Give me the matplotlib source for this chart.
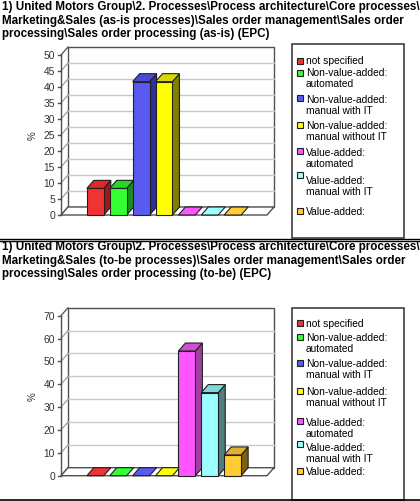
import matplotlib
matplotlib.use("Agg")
import matplotlib.pyplot as plt
from matplotlib.patches import Polygon, Rectangle
from matplotlib.lines import Line2D

# ---------------- data ----------------
categories = ["not specified", "Non-value-added:\nautomated", "Non-value-added:\nmanual with IT",
              "Non-value-added:\nmanual without IT", "Value-added:\nautomated",
              "Value-added:\nmanual with IT", "Value-added:"]
asis_values = [8.33, 8.33, 41.67, 41.67, 0, 0, 0]
tobe_values = [0, 0, 0, 0, 54.55, 36.36, 9.09]
asis_title = ("1) United Motors Group\\2. Processes\\Process architecture\\Core processes\\\n"
              "Marketing&Sales (as-is processes)\\Sales order management\\Sales order\n"
              "processing\\Sales order processing (as-is) (EPC)")
tobe_title = ("1) United Motors Group\\2. Processes\\Process architecture\\Core processes\\\n"
              "Marketing&Sales (to-be processes)\\Sales order management\\Sales order\n"
              "processing\\Sales order processing (to-be) (EPC)")
asis_ticks = list(range(0, 51, 5))
tobe_ticks = list(range(0, 71, 10))
y_label = "%"

front_colors = ["#F03232", "#33FF33", "#5A5AF0", "#FFFF00", "#FF55FF", "#99FFFF", "#FFCC33"]
side_colors = ["#A01818", "#1A901A", "#30309A", "#808000", "#A040A0", "#4C8080", "#806010"]
top_colors = ["#E02828", "#28D828", "#4A4AD8", "#D8D800", "#D050D0", "#80D8D8", "#E0B030"]

W, H = 420, 502
fig = plt.figure(figsize=(W / 100, H / 100), dpi=100)
FONT = "Liberation Sans"


def fx(x):
    return x / W


def fy(y):
    return 1 - y / H


def panel(title, title_y, values, ticks, front_top, front_bot, leg_box, leg_items):
    # title
    fig.text(fx(2), fy(title_y), title, ha="left", va="top", fontsize=8.4,
             fontweight="bold", family=FONT, linespacing=1.18)
    left, right = 61, 267
    ax = fig.add_axes([fx(left), fy(front_bot), (right - left) / W, (front_bot - front_top) / H])
    ax.set_axis_off()
    xmin, xmax = -1.5, len(values) + 0.5
    ymax = ticks[-1]
    ax.set_xlim(xmin, xmax)
    ax.set_ylim(0, ymax)
    px = (xmax - xmin) / (right - left)
    dx = 7 * px
    dy = 8 / ((front_bot - front_top) / ymax)
    edge = "#505050"
    # back wall
    ax.add_patch(Rectangle((xmin + dx, dy), xmax - xmin, ymax, facecolor="white",
                           edgecolor=edge, lw=1.0, zorder=1, clip_on=False))
    for t in ticks[1:-1]:
        ax.add_line(Line2D([xmin + dx, xmax + dx], [t + dy, t + dy], color="#C8C8C8",
                           lw=1.0, zorder=1.5, clip_on=False))
    # left side wall diagonals
    for t in ticks:
        ax.add_line(Line2D([xmin, xmin + dx], [t, t + dy], color="#A0A0A0" if 0 < t < ymax else edge,
                           lw=0.9, zorder=1.6, clip_on=False))
    # floor
    ax.add_patch(Polygon([(xmin, 0), (xmax, 0), (xmax + dx, dy), (xmin + dx, dy)],
                         closed=True, facecolor="white", edgecolor=edge, lw=1.0, zorder=2,
                         clip_on=False))
    # front y-axis
    ax.add_line(Line2D([xmin, xmin], [0, ymax], color=edge, lw=1.0, zorder=3, clip_on=False))
    for t in ticks:
        ax.add_line(Line2D([xmin - 3 * px, xmin], [t, t],
                           color=edge, lw=1.0, zorder=3, clip_on=False))
        ax.text(xmin - 6 * px, t, str(t), ha="right", va="center",
                fontsize=7.4, family=FONT, color="#333333")
    ax.text(xmin - 28 * px, ymax / 2, y_label, rotation=90,
            ha="center", va="center", fontsize=7, family=FONT, color="#333333")
    # bars
    w = 0.74
    for i, v in enumerate(values):
        x0, x1 = i - w / 2, i + w / 2
        if v > 0:
            ax.add_patch(Polygon([(x1, 0), (x1 + dx, dy), (x1 + dx, v + dy), (x1, v)], closed=True,
                                 facecolor=side_colors[i], edgecolor="#202020", lw=0.8, zorder=4,
                                 clip_on=False))
            ax.bar([i], [v], width=w, color=front_colors[i], edgecolor="#202020", lw=0.8,
                   zorder=5, clip_on=False)
        ax.add_patch(Polygon([(x0, v), (x1, v), (x1 + dx, v + dy), (x0 + dx, v + dy)], closed=True,
                             facecolor=top_colors[i] if v > 0 else front_colors[i],
                             edgecolor="#202020", lw=0.8, zorder=5, clip_on=False))
    # legend box
    lx0, ly0, lx1, ly1 = leg_box
    fig.patches.append(Rectangle((fx(lx0), fy(ly1)), (lx1 - lx0) / W, (ly1 - ly0) / H,
                                 transform=fig.transFigure, facecolor="white",
                                 edgecolor="#404040", lw=1.2))
    for i, (ty, my) in enumerate(leg_items):
        fig.patches.append(Rectangle((fx(297), fy(my + 3)), 6 / W, 6 / H, transform=fig.transFigure,
                                     facecolor=front_colors[i], edgecolor="#202020", lw=0.8))
        fig.text(fx(306), fy(ty - 5), categories[i], ha="left", va="top", fontsize=7.4,
                 family=FONT, linespacing=1.12)


panel(asis_title, 1, asis_values, asis_ticks, 56, 216, (292, 45, 404, 239),
      [(61, 62), (73, 74), (100, 99), (126, 126), (153, 152), (181, 176), (212, 212)])
panel(tobe_title, 241, tobe_values, tobe_ticks, 316.7, 476.7, (292, 309, 404, 501),
      [(324, 324), (338, 338), (364, 364), (392, 392), (423, 422), (448, 445), (472, 472)])

# separators
for y in (239.5, 242):
    fig.add_artist(Line2D([0, 1], [fy(y), fy(y)], color="black", lw=1.0, transform=fig.transFigure))
fig.add_artist(Line2D([0, 1], [fy(501), fy(501)], color="black", lw=1.2, transform=fig.transFigure))

fig.savefig("out.png", dpi=100)
